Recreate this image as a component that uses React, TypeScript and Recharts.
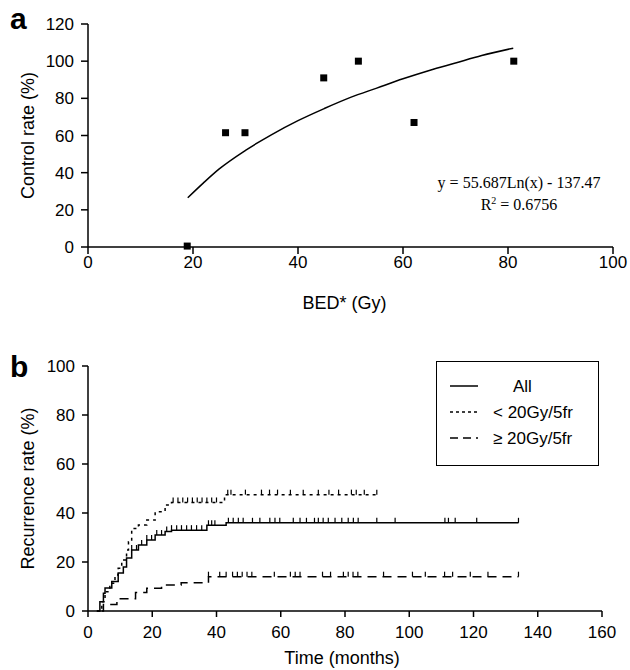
import React from "react";
import { ComposedChart, Scatter, Line, XAxis, YAxis, Legend } from "recharts";

// panel a: control rate vs BED
const bedGy = [18.9, 26.2, 29.9, 44.9, 51.5, 62.1, 81.1];
const controlRate = [0.5, 61.5, 61.5, 91, 100, 67, 100];
// log fit curve
const fitBed = [19, 22, 25, 30, 35, 40, 45, 50, 55, 60, 65, 70, 75, 81];
const fitRate = [26.5, 34.5, 42, 52, 60.5, 68, 74.5, 80.5, 85.5, 90.5, 95, 99, 103, 107];
const bedTicks = [0, 20, 40, 60, 80, 100];
const rateTicks = [0, 20, 40, 60, 80, 100, 120];

// panel b: cumulative recurrence (step curves)
const allT = [2.7, 3.7, 4.8, 5.3, 7.4, 9.4, 11, 12, 13.6, 15.7, 18.3, 20.9, 24, 26, 37, 43, 134];
const allV = [0, 3.8, 7.2, 9.4, 12, 15.5, 18, 21.6, 24.9, 26.9, 29, 31, 32.4, 33, 35, 36, 36];
const lowT = [2.8, 4.3, 5.3, 6.8, 8.4, 9.4, 10.5, 12, 12.6, 13.6, 15.7, 18.3, 20.9, 24, 26, 42.5, 89.9];
const lowV = [0, 3.8, 7.9, 11.3, 14.7, 17.4, 20.8, 24.9, 28.3, 33.7, 35.1, 37.1, 40.5, 43.3, 44.3, 47.5, 47.5];
const highT = [4.3, 4.8, 9, 14.8, 18.3, 22.9, 29, 37.5, 134];
const highV = [0, 2.7, 5, 7.6, 9.3, 10.6, 11.5, 14, 14];

// censored observations (months)
const allCensor = [13.6, 15.1, 16.7, 18.3, 19.8, 21.4, 22.9, 24.5, 26, 27.6, 29.1, 30.7, 32.2, 33.8, 35.4, 37.5, 38.5, 39.5, 43.7, 45.2, 46.8, 48.3, 51.2, 53.5, 56.6, 58.2, 59.7, 63.9, 66, 68, 70.5, 71.7, 73.2, 74.8, 76.9, 79, 81, 82.6, 84.1, 89.9, 95.6, 111.1, 112.2, 114.3, 121, 134];
const lowCensor = [26.5, 28, 29.5, 31, 32.5, 34, 35.5, 37, 38.5, 40, 43.5, 44.5, 49, 54, 56.5, 59, 63, 67, 71.7, 75, 78, 82, 83.5, 86, 89.9];
const highCensor = [37.5, 41, 43, 45, 46.5, 48, 49.5, 51, 58, 63, 64.5, 66, 73, 75.5, 79.5, 81, 82.5, 84, 92, 101, 105, 111, 113.5, 119, 124.5, 134];
const timeTicks = [0, 20, 40, 60, 80, 100, 120, 140, 160];
const recTicks = [0, 20, 40, 60, 80, 100];

const legendNames = ["All", "< 20Gy/5fr", "\u2265 20Gy/5fr"];
const legendDash = ["", "3 3", "8 5"];

const FONT = "'Liberation Sans', Arial, sans-serif";
const SERIF = "'Liberation Serif', 'Times New Roman', serif";

const zip = (xs: number[], ys: number[], kx: string, ky: string) =>
  xs.map((x, i) => ({ [kx]: x, [ky]: ys[i] }));

// value of a step curve at time t
const stepAt = (ts: number[], vs: number[], t: number) => {
  let v = vs[0];
  ts.forEach((tt, i) => {
    if (tt <= t) v = vs[i];
  });
  return v;
};
const censorPts = (c: number[], ts: number[], vs: number[]) =>
  c.map((t) => ({ t, v: stepAt(ts, vs, t) }));

const Square = ({ cx, cy }: any) => (
  <rect x={cx - 3.5} y={cy - 3.5} width={7} height={7} fill="#000" />
);
const Tick = ({ cx, cy }: any) => (
  <line x1={cx} x2={cx} y1={cy} y2={cy - 5} stroke="#000" strokeWidth={1.2} />
);

const axisStyle = { stroke: "#000", strokeWidth: 1.5 };
const tickFont = { fill: "#000", fontSize: 17, fontFamily: FONT };

const xTitle = (text: string, dy: number, dx: number) => ({ viewBox }: any) => (
  <text
    x={viewBox.x + viewBox.width / 2 + dx}
    y={viewBox.y + dy}
    textAnchor="middle"
    dominantBaseline="central"
    fontSize={18}
    fontFamily={FONT}
    fill="#000"
  >
    {text}
  </text>
);
const yTitle = (text: string, x: number) => ({ viewBox }: any) => {
  const cy = viewBox.y + viewBox.height / 2;
  return (
    <text
      x={x}
      y={cy}
      transform={`rotate(-90 ${x} ${cy})`}
      textAnchor="middle"
      dominantBaseline="central"
      fontSize={18}
      fontFamily={FONT}
      fill="#000"
    >
      {text}
    </text>
  );
};

const renderLegend = () => (
  <svg width={163} height={105}>
    <rect x={0.5} y={0.5} width={162} height={104} fill="#fff" stroke="#000" strokeWidth={1} />
    {legendNames.map((name, i) => {
      const y = 25 + i * 26;
      return (
        <g key={name}>
          <line x1={14} x2={42} y1={y} y2={y} stroke="#000" strokeWidth={1.5} strokeDasharray={legendDash[i] || undefined} />
          <text x={i === 0 ? 77 : 57} y={y} dominantBaseline="central" fontSize={17} fontFamily={FONT} fill="#000">
            {name}
          </text>
        </g>
      );
    })}
  </svg>
);

export default function App() {
  const pts = zip(bedGy, controlRate, "x", "y");
  const fit = zip(fitBed, fitRate, "x", "y");
  const all = zip(allT, allV, "t", "v");
  const low = zip(lowT, lowV, "t", "v");
  const high = zip(highT, highV, "t", "v");

  return (
    <div style={{ position: "absolute", left: 0, top: 0, width: 630, height: 670, background: "#fff" }}>
      <div style={{ position: "absolute", left: 10, top: 4, fontFamily: FONT, fontWeight: "bold", fontSize: 30, lineHeight: "30px" }}>a</div>
      <div style={{ position: "absolute", left: 10, top: 352, fontFamily: FONT, fontWeight: "bold", fontSize: 30, lineHeight: "30px" }}>b</div>

      <div style={{ position: "absolute", left: 0, top: 0 }}>
        <ComposedChart width={630} height={320} margin={{ top: 24, right: 17, bottom: 43, left: 28 }}>
          <XAxis
            type="number"
            dataKey="x"
            domain={[0, 100]}
            ticks={bedTicks}
            height={30}
            tick={tickFont}
            tickSize={7}
            tickMargin={2}
            axisLine={axisStyle}
            tickLine={axisStyle}
            label={{ value: "BED* (Gy)", content: xTitle("BED* (Gy)", 56, -6) }}
          />
          <YAxis
            type="number"
            domain={[0, 120]}
            ticks={rateTicks}
            width={60}
            tick={tickFont}
            tickSize={7}
            tickMargin={7}
            axisLine={axisStyle}
            tickLine={axisStyle}
            label={{ value: "Control rate (%)", content: yTitle("Control rate (%)", 28) }}
          />
          <Line data={fit} dataKey="y" type="monotone" stroke="#000" strokeWidth={1.5} dot={false} isAnimationActive={false} />
          <Scatter data={pts} dataKey="y" shape={<Square />} isAnimationActive={false} />
        </ComposedChart>
      </div>
      <div style={{ position: "absolute", left: 419, top: 172, width: 200, textAlign: "center", fontFamily: SERIF, fontSize: 16, lineHeight: "22px", color: "#000" }}>
        <div>y = 55.687Ln(x) - 137.47</div>
        <div>
          R<sup style={{ fontSize: 10, verticalAlign: "6px", lineHeight: 0 }}>2</sup> = 0.6756
        </div>
      </div>

      <div style={{ position: "absolute", left: 0, top: 330 }}>
        <ComposedChart width={630} height={340} margin={{ top: 36, right: 28, bottom: 29, left: 28 }}>
          <XAxis
            type="number"
            dataKey="t"
            domain={[0, 160]}
            ticks={timeTicks}
            height={30}
            tick={tickFont}
            tickSize={6}
            tickMargin={9}
            axisLine={axisStyle}
            tickLine={axisStyle}
            label={{ value: "Time (months)", content: xTitle("Time (months)", 47, -3) }}
          />
          <YAxis
            type="number"
            domain={[0, 100]}
            ticks={recTicks}
            width={60}
            tick={tickFont}
            tickSize={6}
            tickMargin={7}
            axisLine={axisStyle}
            tickLine={axisStyle}
            label={{ value: "Recurrence rate (%)", content: yTitle("Recurrence rate (%)", 28) }}
          />
          <Legend layout="horizontal" verticalAlign="middle" align="center" content={renderLegend}
            wrapperStyle={{ left: 436, top: 31, width: 163, height: 105 }} />
          <Line data={all} dataKey="v" type="stepAfter" stroke="#000" strokeWidth={1.5} dot={false} isAnimationActive={false} legendType="none" />
          <Line data={low} dataKey="v" type="stepAfter" stroke="#000" strokeWidth={1.5} strokeDasharray="3 4" dot={false} isAnimationActive={false} legendType="none" />
          <Line data={high} dataKey="v" type="stepAfter" stroke="#000" strokeWidth={1.5} strokeDasharray="9 6" dot={false} isAnimationActive={false} legendType="none" />
          <Scatter data={censorPts(allCensor, allT, allV)} dataKey="v" shape={<Tick />} isAnimationActive={false} legendType="none" />
          <Scatter data={censorPts(lowCensor, lowT, lowV)} dataKey="v" shape={<Tick />} isAnimationActive={false} legendType="none" />
          <Scatter data={censorPts(highCensor, highT, highV)} dataKey="v" shape={<Tick />} isAnimationActive={false} legendType="none" />
        </ComposedChart>
      </div>
    </div>
  );
}
